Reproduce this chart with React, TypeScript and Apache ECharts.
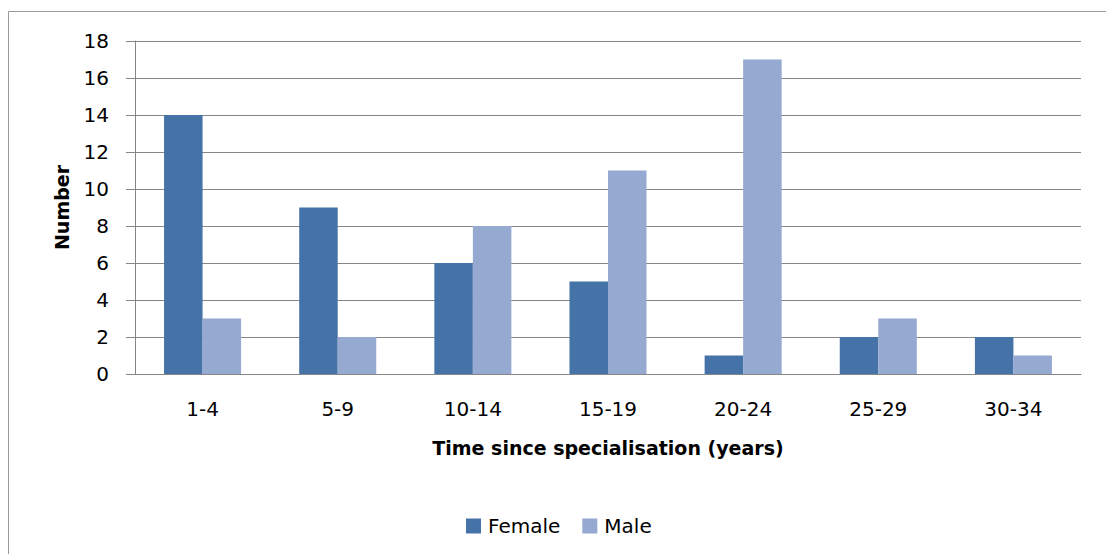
import React, { useEffect, useRef } from "react";
import * as echarts from "echarts";

const categories = ["1-4", "5-9", "10-14", "15-19", "20-24", "25-29", "30-34"];
const female = [14, 9, 6, 5, 1, 2, 2];
const male = [3, 2, 8, 11, 17, 3, 1];
const yTicks = { min: 0, max: 18, interval: 2 };

const FONT = "'DejaVu Sans', sans-serif";

export default function App() {
  const ref = useRef<HTMLDivElement>(null);
  useEffect(() => {
    if (!ref.current) return;
    const chart = echarts.init(ref.current, null, { renderer: "svg" });
    chart.setOption({
      animation: false,
      backgroundColor: "#ffffff",
      textStyle: { fontFamily: FONT },
      graphic: [
        {
          type: "rect",
          shape: { x: 8.5, y: 11.5, width: 1200, height: 700 },
          style: { fill: "none", stroke: "#9a9a9a", lineWidth: 1 },
          silent: true,
          z: -10,
        },
      ],
      grid: { left: 135, right: 25, top: 41, bottom: 180 },
      legend: {
        left: 461,
        top: 511,
        itemWidth: 15,
        itemHeight: 15,
        itemGap: 22,
        icon: "rect",
        textStyle: { fontFamily: FONT, fontSize: 20, color: "#000", padding: [0, 0, 0, 2] },
        data: ["Female", "Male"],
      },
      xAxis: {
        type: "category",
        data: categories,
        name: "Time since specialisation (years)",
        nameLocation: "middle",
        nameGap: 64,
        nameTextStyle: { fontFamily: FONT, fontSize: 19, fontWeight: "bold", color: "#000", verticalAlign: "top" },
        axisLine: { lineStyle: { color: "#868686", width: 1 } },
        axisTick: { show: false },
        axisLabel: { fontFamily: FONT, fontSize: 20, color: "#000", margin: 25 },
      },
      yAxis: {
        type: "value",
        min: yTicks.min,
        max: yTicks.max,
        interval: yTicks.interval,
        name: "Number",
        nameLocation: "middle",
        nameGap: 64,
        nameTextStyle: { fontFamily: FONT, fontSize: 19, fontWeight: "bold", color: "#000" },
        axisLine: { show: true, lineStyle: { color: "#868686", width: 1 } },
        axisTick: { show: true, inside: false, length: 9, lineStyle: { color: "#868686" } },
        axisLabel: { fontFamily: FONT, fontSize: 20, color: "#000", margin: 26 },
        splitLine: { lineStyle: { color: "#868686", width: 1 } },
      },
      series: [
        {
          name: "Female",
          type: "bar",
          data: female,
          itemStyle: { color: "#4572A7" },
          barGap: "0%",
          barCategoryGap: "43%",
        },
        {
          name: "Male",
          type: "bar",
          data: male,
          itemStyle: { color: "#95A9D1" },
          barGap: "0%",
          barCategoryGap: "43%",
        },
      ],
    });
    return () => chart.dispose();
  }, []);
  return (
    <div
      ref={ref}
      style={{ position: "absolute", left: 0, top: 0, width: 1106, height: 554 }}
    />
  );
}
